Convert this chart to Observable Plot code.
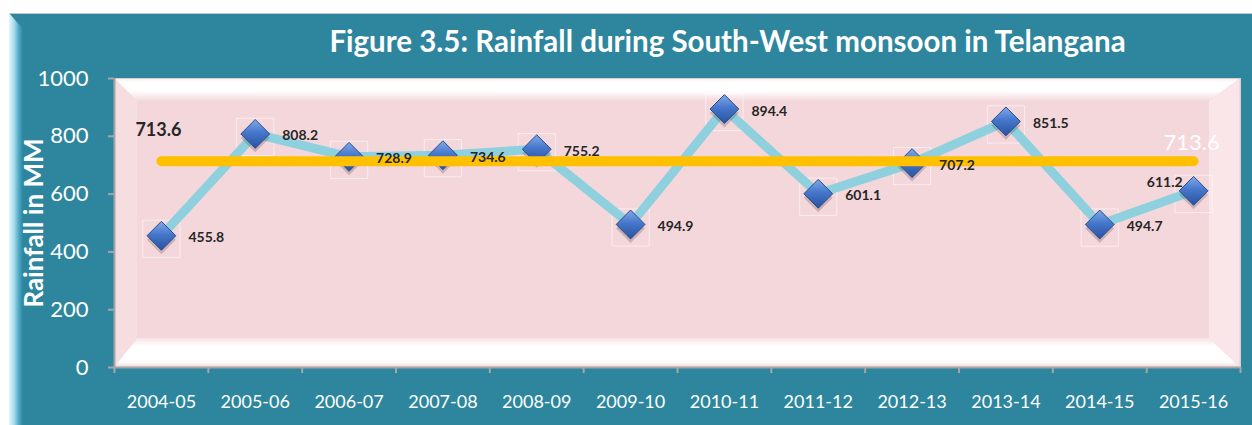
<!DOCTYPE html>
<html><head><meta charset="utf-8">
<script src="https://cdn.jsdelivr.net/npm/d3@7"></script>
<script src="https://cdn.jsdelivr.net/npm/@observablehq/plot@0.6"></script>
<style>
html,body{margin:0;padding:0;background:#fff;}
#wrap{position:relative;width:1252px;height:425px;overflow:hidden;font-family:Lato,"Open Sans",sans-serif;}
#bg{position:absolute;left:9px;top:13px;width:1243px;height:412px;background:#2D869D;border-top:1px solid #B9C9CE;}
#strip{position:absolute;left:9px;top:13px;width:14px;height:412px;background:linear-gradient(to right,#E6F6FB 0%,#A9DDEE 35%,#4FA9C4 70%,#2D869D 100%);clip-path:polygon(0 0,100% 16px,100% 100%,0 100%);}
#chart{position:absolute;left:0;top:0;}
#title{position:absolute;left:0;width:1455px;top:23px;text-align:center;color:#fff;font-weight:bold;font-size:29.5px;white-space:nowrap;}
#ylabel{position:absolute;left:33px;top:223px;transform:translate(-50%,-50%) rotate(-90deg);color:#fff;font-weight:bold;font-size:26px;white-space:nowrap;}
</style></head><body>
<div id="wrap"><div id="bg"></div><div id="strip"></div><div id="chart"></div><div id="title"></div><div id="ylabel"></div></div>
<script>
const years = ["2004-05","2005-06","2006-07","2007-08","2008-09","2009-10","2010-11","2011-12","2012-13","2013-14","2014-15","2015-16"];
const rainfall = [455.8, 808.2, 728.9, 734.6, 755.2, 494.9, 894.4, 601.1, 707.2, 851.5, 494.7, 611.2];
const average = 713.6;
const yTicks = [0, 200, 400, 600, 800, 1000];
const titleText = "Figure 3.5: Rainfall during South-West monsoon in Telangana";
const yLabelText = "Rainfall in MM";

document.getElementById("title").textContent = titleText;
document.getElementById("ylabel").textContent = yLabelText;

const data = years.map((year, i) => ({year, i: i + 0.5, value: rainfall[i]}));
const avgData = years.map((year, i) => ({i: i + 0.5, value: average}));
const last = data.length - 1;
const font = "Lato, 'Open Sans', sans-serif";

const chart = Plot.plot({
  width: 1252, height: 425,
  marginLeft: 114, marginRight: 12, marginTop: 78, marginBottom: 58,
  style: {background: "transparent", fontFamily: font, overflow: "visible"},
  x: {type: "linear", domain: [0, years.length], axis: null},
  y: {domain: [0, 1000], axis: null},
  marks: [
    Plot.frame({fill: "#F4D7DB", stroke: "#D2D2D2"}),
    Plot.dot(data, {x: "i", y: "value", symbol: "square", r: 21, dy: 3, fill: "none", stroke: "#fff", strokeOpacity: 0.55, strokeWidth: 1}),
    Plot.line(data, {x: "i", y: "value", stroke: "#8ED0DE", strokeWidth: 9, strokeLinejoin: "round"}),
    Plot.dot(data, {x: "i", y: "value", symbol: "diamond2", r: 13, dy: 4, fill: "#3a2a30", fillOpacity: 0.22, stroke: "none"}),
    Plot.dot(data, {x: "i", y: "value", symbol: "diamond2", r: 13, fill: "url(#mk)", stroke: "#2B4E8C", strokeWidth: 1}),
    Plot.line(avgData, {x: "i", y: "value", stroke: "#FFC000", strokeWidth: 10, strokeLinecap: "round"}),
    Plot.text(data, {filter: (d, j) => j !== last, x: "i", y: "value", text: d => d.value.toFixed(1), dx: 27, dy: 2, textAnchor: "start", fontWeight: "bold", fontSize: 14, fill: "#262626"}),
    Plot.text(data, {filter: (d, j) => j === last, x: "i", y: "value", text: d => d.value.toFixed(1), dx: -11, dy: -8, textAnchor: "end", fontWeight: "bold", fontSize: 14, fill: "#262626"}),
    Plot.text(avgData, {filter: (d, j) => j === 0, x: "i", y: "value", text: d => d.value.toFixed(1), dx: -26, dy: -31, textAnchor: "start", fontWeight: "bold", fontSize: 18, fill: "#262626"}),
    Plot.text(avgData, {filter: (d, j) => j === last, x: "i", y: "value", text: d => d.value.toFixed(1), dx: -30, dy: -18, textAnchor: "start", fontSize: 22, fill: "#fff"}),
    Plot.ruleX([0], {stroke: "#A6A6A6", strokeWidth: 2}),
    Plot.ruleY([0], {stroke: "#A6A6A6", strokeWidth: 2}),
    Plot.axisY(yTicks, {label: null, tickSize: 6, tickPadding: 20, stroke: "#A6A6A6", strokeWidth: 2, fill: "#fff", fontSize: 22, tickFormat: d => String(d)}),
    Plot.axisX(d3.range(years.length + 1), {label: null, tickSize: 6, stroke: "#A6A6A6", strokeWidth: 2, tickFormat: () => ""}),
    Plot.axisX(data.map(d => d.i), {label: null, tickSize: 0, tickPadding: 28, fill: "#fff", fontSize: 18, tickFormat: d => years[Math.floor(d)]})
  ]
});

// gradients + bevel decoration of the plot area
const ns = "http://www.w3.org/2000/svg";
const defs = document.createElementNS(ns, "defs");
defs.innerHTML = `
<linearGradient id="mk" x1="0" y1="0" x2="0" y2="1">
  <stop offset="0" stop-color="#80A9E8"/><stop offset="0.45" stop-color="#4677CC"/><stop offset="1" stop-color="#28529E"/>
</linearGradient>
<linearGradient id="topg" x1="0" y1="0" x2="0" y2="1">
  <stop offset="0" stop-color="#FCEFF1"/><stop offset="0.15" stop-color="#FFFFFF"/><stop offset="0.55" stop-color="#FFFFFF"/><stop offset="1" stop-color="#F4D7DB"/>
</linearGradient>
<linearGradient id="botg" x1="0" y1="0" x2="0" y2="1">
  <stop offset="0" stop-color="#F7E3E6"/><stop offset="0.3" stop-color="#FFFFFF"/><stop offset="0.85" stop-color="#FFFFFF"/><stop offset="1" stop-color="#F8DDE1"/>
</linearGradient>`;
chart.insertBefore(defs, chart.firstChild);
const sx = chart.scale("x"), sy = chart.scale("y");
const x0 = sx.apply(0) + 1, x1 = sx.apply(years.length) - 1, yT = sy.apply(1000) + 1, yB = sy.apply(0) - 1;
const bl = 22, br = 30, bt = 22, bb = 28;
const g = document.createElementNS(ns, "g");
const poly = (pts, fill) => `<polygon points="${pts.map(p => p.join(",")).join(" ")}" fill="${fill}"/>`;
g.innerHTML =
  poly([[x0, yT], [x1, yT], [x1 - br, yT + bt], [x0 + bl, yT + bt]], "url(#topg)") +
  poly([[x0, yB], [x1, yB], [x1 - br, yB - bb], [x0 + bl, yB - bb]], "url(#botg)") +
  poly([[x0, yT], [x0 + bl, yT + bt], [x0 + bl, yB - bb], [x0, yB]], "#F6DDE0") +
  poly([[x1, yT], [x1 - br, yT + bt], [x1 - br, yB - bb], [x1, yB]], "#FAE5E8");
const frame = chart.querySelector('[aria-label="frame"]');
frame.parentNode.insertBefore(g, frame.nextSibling);

document.getElementById("chart").appendChild(chart);
</script>
</body></html>
